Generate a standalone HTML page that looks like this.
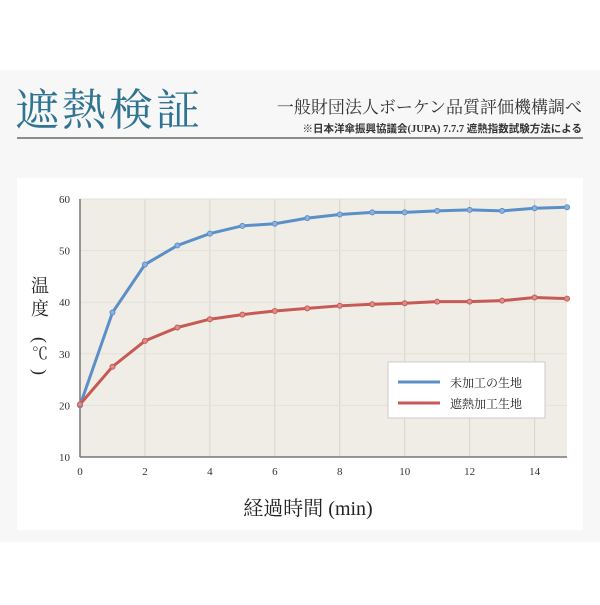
<!DOCTYPE html>
<html><head><meta charset="utf-8"><style>
body{margin:0;width:600px;height:600px;background:#fff;overflow:hidden;font-family:"Liberation Serif","Noto Serif CJK SC",serif}
</style></head><body>
<svg width="600" height="600" xmlns="http://www.w3.org/2000/svg" id="s">
<rect x="0" y="70" width="600" height="472" fill="#f7f7f7"/>
<rect x="17" y="178" width="566" height="352" fill="#fff"/>
<text x="15" y="125" font-size="44" fill="#2f7592" font-family="Liberation Serif,Noto Serif CJK SC,serif" letter-spacing="3">遮熱検証</text>
<text x="582" y="113" font-size="17" fill="#333" text-anchor="end" font-family="Liberation Serif,Noto Serif CJK SC,serif">一般財団法人ボーケン品質評価機構調べ</text>
<text x="582" y="132" font-size="10.5" fill="#333" text-anchor="end" font-family="Liberation Serif,Noto Sans CJK JP,sans-serif" font-weight="bold">※日本洋傘振興協議会(JUPA) 7.7.7 遮熱指数試験方法による</text>
<line x1="17" y1="138" x2="583" y2="138" stroke="#222" stroke-width="1"/>
<rect x="80" y="199" width="487" height="258" fill="#efede6"/>
<g id="grid"></g>
<line x1="80" y1="199" x2="80" y2="457" stroke="#777" stroke-width="1.5"/>
<line x1="80" y1="457" x2="567" y2="457" stroke="#777" stroke-width="1.5"/>
<g id="lines"></g>
<rect x="388" y="362" width="157" height="56" fill="#fff" stroke="#ccc"/>
<line x1="398" y1="382" x2="440" y2="382" stroke="#5b8fc8" stroke-width="3"/>
<line x1="398" y1="403" x2="440" y2="403" stroke="#c75a55" stroke-width="3"/>
<text x="450" y="387" font-size="12" fill="#222">未加工の生地</text>
<text x="450" y="408" font-size="12" fill="#222">遮熱加工生地</text>
<text x="40" y="292" font-size="18" fill="#222" text-anchor="middle">温</text>
<text x="40" y="315" font-size="18" fill="#222" text-anchor="middle">度</text>
<text x="40" y="340" font-size="18" fill="#222" text-anchor="middle" transform="rotate(90 40 340)" dy="6">(</text>
<text x="40" y="359" font-size="16" fill="#222" text-anchor="middle">℃</text>
<text x="40" y="372" font-size="18" fill="#222" text-anchor="middle" transform="rotate(90 40 372)" dy="6">)</text>
<text x="308" y="515" font-size="20" fill="#222" text-anchor="middle">経過時間 (min)</text>
</svg>
<script>
const X=t=>80+t*32.47,Y=v=>457-(v-10)*5.16;
let g='';
for(let t=2;t<=14;t+=2)g+=`<line x1="${X(t)}" y1="199" x2="${X(t)}" y2="457" stroke="#d6d4cc"/>`;
for(let v=20;v<=60;v+=10)g+=`<line x1="80" y1="${Y(v)}" x2="567" y2="${Y(v)}" stroke="#e2e0d8"/>`;
for(let t=0;t<=14;t+=2)g+=`<text x="${X(t)}" y="475" font-size="11" text-anchor="middle" fill="#333">${t}</text>`;
for(let v=10;v<=60;v+=10)g+=`<text x="70" y="${Y(v)+4}" font-size="11" text-anchor="end" fill="#333">${v}</text>`;
document.getElementById('grid').innerHTML=g;
const B=[20,38,47.3,51,53.3,54.8,55.2,56.3,57,57.4,57.4,57.7,57.9,57.7,58.2,58.4];
const R=[20.2,27.5,32.5,35.1,36.7,37.6,38.3,38.8,39.3,39.6,39.8,40.1,40.1,40.3,40.9,40.7];
let l='';
[[B,'#5b8fc8','#8db3dc'],[R,'#c75a55','#dd8d89']].forEach(([d,c,m])=>{
l+=`<polyline fill="none" stroke="${c}" stroke-width="3" points="${d.map((v,i)=>X(i)+','+Y(v)).join(' ')}"/>`;
d.forEach((v,i)=>l+=`<circle cx="${X(i)}" cy="${Y(v)}" r="2.5" fill="${m}" stroke="${c}"/>`);
});
document.getElementById('lines').innerHTML=l;
</script>
</body></html>
